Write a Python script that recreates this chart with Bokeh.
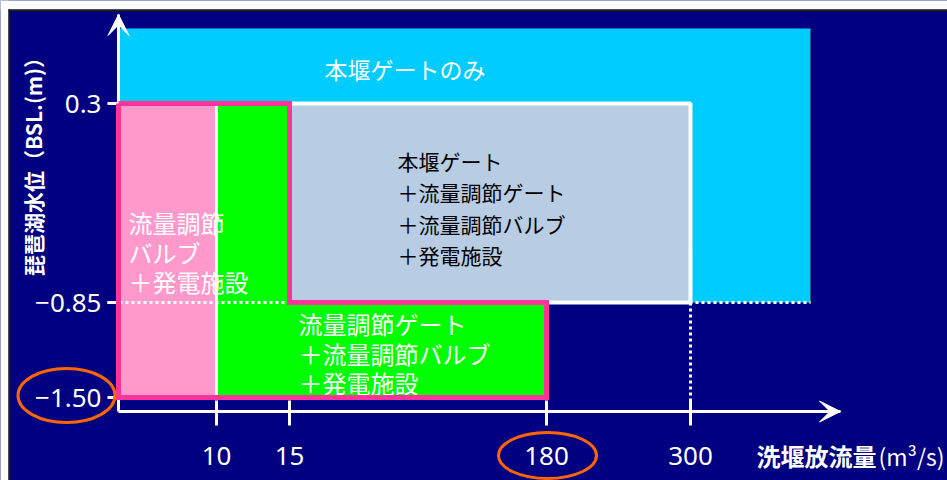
import numpy as np
from bokeh.plotting import figure
from bokeh.models import Range1d, FixedTicker, Arrow, VeeHead
from bokeh.core.properties import value
from bokeh.embed import file_html
from bokeh.resources import INLINE

# ---------------- data ----------------
flow_ticks = [10, 15, 180, 300]
flow_tick_labels = ["10", "15", "180", "300"]
level_ticks = [0.3, -0.85, -1.50]
level_tick_labels = ["0.3", "−0.85", "−1.50"]

# operating regions: (flow from, flow to), (level from, level to)
main_only_flow = [0, 400]
main_only_level = [-0.85, 0.73]
combined_flow = [15, 300]
combined_level = [-0.85, 0.3]
valve_flow = [0, 10]
valve_level = [-1.50, 0.3]
gate_upper_flow = [10, 15]
gate_upper_level = [-1.50, 0.3]
gate_lower_flow = [10, 180]
gate_lower_level = [-1.50, -0.85]

# outline of the range covered without the main weir gate
outline_flow = [0, 15, 15, 180, 180, 0, 0]
outline_level = [0.3, 0.3, -0.85, -0.85, -1.50, -1.50, 0.3]

flow_axis_end = 425
level_axis_min = -1.6
level_axis_max = 0.81
highlight_level = -1.50
highlight_flow = 180

main_only_text = "本堰ゲートのみ"
combined_text = ["本堰ゲート", "＋流量調節ゲート", "＋流量調節バルブ", "＋発電施設"]
valve_text = ["流量調節", "バルブ", "＋発電施設"]
gate_text = ["流量調節ゲート", "＋流量調節バルブ", "＋発電施設"]
y_title = "琵琶湖水位（BSL.(m)）"
x_title_main = "洗堰放流量"
x_title_unit = "(m³/s)"

# ------------- schematic (non-uniform) scale -------------
X_VALS = [0, 10, 15, 180, 300, 425]
X_POS = [118, 216, 289, 546, 690, 840]
Y_VALS = [-1.6, -1.5, -0.85, 0.3, 0.81]
Y_POS = [69, 83, 178, 377, 466]


def fx(q):
    return float(np.interp(q, X_VALS, X_POS))


def fy(v):
    return float(np.interp(v, Y_VALS, Y_POS))


W, H = 947, 480
NAVY = "#000080"
CJK = value("Noto Sans CJK JP")

p = figure(width=W, height=H, x_range=Range1d(0, W), y_range=Range1d(0, H),
           min_border=0, toolbar_location=None, output_backend="svg",
           background_fill_color=NAVY, border_fill_color=NAVY,
           outline_line_color=None)
p.grid.visible = False

# slide frame (white margin + dark rule at top and left)
p.quad(left=[0, 0], right=[W, 8], bottom=[H - 9, 0], top=[H, H],
       fill_color="white", line_color=None)
p.quad(left=[8, 8], right=[W, 10], bottom=[H - 11, 0], top=[H - 9, H - 9],
       fill_color="#1a1a1a", line_color=None)


def box(fr, lv, **kw):
    return p.quad(left=[fx(fr[0])], right=[fx(fr[1])],
                  bottom=[fy(lv[0])], top=[fy(lv[1])], **kw)


box(main_only_flow, main_only_level, fill_color="#00CCFF", line_color=None)
p.line(x=[fx(main_only_flow[1])] * 2, y=[fy(main_only_level[0]), fy(main_only_level[1])],
       line_color="#555555", line_width=1, line_dash="2 2")
box(combined_flow, combined_level, fill_color="#B8CCE4", line_color="white", line_width=4)
box(valve_flow, valve_level, fill_color="#FF99CC", line_color=None)
box(gate_upper_flow, gate_upper_level, fill_color="#00FF00", line_color=None)
box(gate_lower_flow, gate_lower_level, fill_color="#00FF00", line_color=None)
p.line(x=[fx(10)] * 2, y=[fy(-1.5), fy(0.3)], line_color="white", line_width=3)

# dotted reference lines
p.line(x=[fx(0) - 11, fx(main_only_flow[1])], y=[fy(-0.85)] * 2,
       line_color="white", line_width=3, line_dash="3 3")
p.line(x=[fx(300)] * 2, y=[fy(-0.85), fy(level_axis_min)],
       line_color="white", line_width=3, line_dash="3 3")

outline = p.line(x=[fx(v) for v in outline_flow], y=[fy(v) for v in outline_level],
                 line_color="#FF3399", line_width=5, line_join="miter")
outline.level = "overlay"


def text_block(lines, x, y0, size, spacing, color):
    p.text(x=[x] * len(lines), y=[y0 - i * spacing for i in range(len(lines))],
           text=lines, text_color=color, text_font=CJK, text_font_size=size,
           text_align="left", text_baseline="middle")


text_block([main_only_text], fx(15) + 35, fy(0.3) + 35, "23px", 0, "white")
text_block(combined_text, fx(15) + 108, fy(0.3) - 57, "21px", 31.5, "black")
text_block(valve_text, fx(0) + 10, fy(0.3) - 119, "24px", 29.5, "white")
text_block(gate_text, fx(10) + 82, fy(-0.85) - 21, "24px", 29.5, "white")

# axis titles
p.text(x=[32], y=[fy(0.3) - 58], text=[y_title], angle=np.pi / 2,
       text_color="white", text_font=CJK, text_font_size="21px",
       text_font_style="bold", text_align="center", text_baseline="middle")
p.text(x=[fx(flow_axis_end) - 84], y=[fy(level_axis_min) - 44], text=[x_title_main],
       text_color="white", text_font=CJK, text_font_size="24px",
       text_font_style="bold", text_align="left", text_baseline="middle")
p.text(x=[fx(flow_axis_end) + 38], y=[fy(level_axis_min) - 44], text=[x_title_unit],
       text_color="white", text_font=CJK, text_font_size="23px",
       text_align="left", text_baseline="middle")

# axes
xa = p.xaxis[0]
xa.fixed_location = fy(level_axis_min)
xa.bounds = (fx(0), fx(flow_axis_end))
xa.ticker = FixedTicker(ticks=[fx(v) for v in flow_ticks])
xa.major_label_overrides = {fx(v): s for v, s in zip(flow_ticks, flow_tick_labels)}
xa.major_tick_in = 11
xa.major_tick_out = 14
xa.major_label_standoff = 21

ya = p.yaxis[0]
ya.fixed_location = fx(0)
ya.bounds = (fy(level_axis_min), fy(level_axis_max))
ya.ticker = FixedTicker(ticks=[fy(v) for v in level_ticks])
ya.major_label_overrides = {fy(v): s for v, s in zip(level_ticks, level_tick_labels)}
ya.major_tick_in = 0
ya.major_tick_out = 11
ya.major_label_standoff = 6

for ax in (xa, ya):
    ax.axis_line_color = "white"
    ax.axis_line_width = 3
    ax.major_tick_line_color = "white"
    ax.major_tick_line_width = 3
    ax.minor_tick_line_color = None
    ax.major_label_text_color = "white"
    ax.major_label_text_font = "Noto Sans"
    ax.major_label_text_font_size = "26px"

# arrow heads
p.add_layout(Arrow(x_start=fx(flow_axis_end) - 30, y_start=fy(level_axis_min),
                   x_end=fx(flow_axis_end), y_end=fy(level_axis_min),
                   line_color="white", line_width=3,
                   end=VeeHead(size=21, fill_color="white", line_color="white", line_width=1)))
p.add_layout(Arrow(x_start=fx(0), y_start=fy(level_axis_max) - 30,
                   x_end=fx(0), y_end=fy(level_axis_max),
                   line_color="white", line_width=3,
                   end=VeeHead(size=21, fill_color="white", line_color="white", line_width=1)))

# orange highlight ellipses
ell = p.ellipse(x=[fx(0) - 52, fx(highlight_flow) + 1],
                y=[fy(highlight_level) + 2, fy(level_axis_min) - 44],
                width=[97, 98], height=[54, 46],
                width_units="screen", height_units="screen",
                fill_color=None, line_color="#FF6600", line_width=3)
ell.level = "overlay"

open("out.html", "w").write(file_html(p, INLINE))
